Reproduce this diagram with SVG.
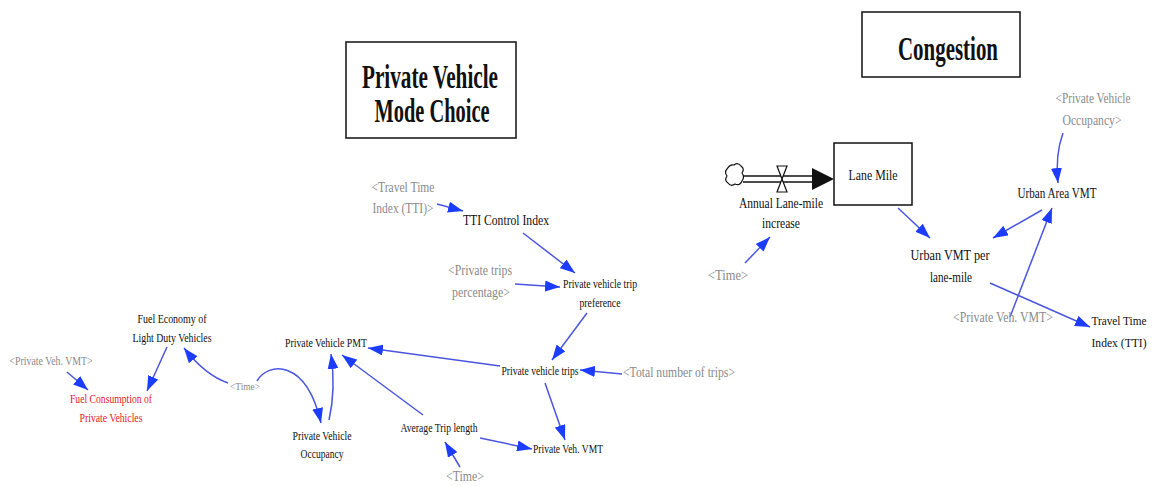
<svg xmlns="http://www.w3.org/2000/svg" width="1157" height="486" viewBox="0 0 1157 486">
<style>
text{font-family:"Liberation Serif","Times New Roman",serif;text-anchor:middle;fill:#111}
.g{fill:#8a8a8a}
.r{fill:#e8202a}
.s14{font-size:14px}
.s13{font-size:13.5px}
.s12{font-size:12.5px}
.s11{font-size:11px}
.s16{font-size:15.5px}
.title{font-size:33px;font-weight:bold}
.lnk{fill:none;stroke:#4a56e0;stroke-width:1.5;marker-end:url(#ah)}
.box{fill:#fff;stroke:#111;stroke-width:1.5}
</style>
<defs>
<marker id="ah" viewBox="0 0 15 11" refX="15" refY="5.5" markerWidth="15" markerHeight="11" markerUnits="userSpaceOnUse" orient="auto">
<path d="M0,0 L15,5.5 L0,11 z" fill="#1c3cff"/>
</marker>
</defs>
<rect width="1157" height="486" fill="#fff"/>

<g id="title-mode-choice">
<rect class="box" x="346" y="42" width="170" height="96"/>
<text class="title" x="430" y="88" textLength="136" lengthAdjust="spacingAndGlyphs">Private Vehicle</text>
<text class="title" x="432" y="122" textLength="115" lengthAdjust="spacingAndGlyphs">Mode Choice</text>
</g>
<g id="title-congestion">
<rect class="box" x="862" y="12" width="158" height="65"/>
<text class="title" x="948" y="60" textLength="100" lengthAdjust="spacingAndGlyphs">Congestion</text>
</g>

<g id="connectors">
<path class="lnk" d="M67,372 L88,390"/>
<path class="lnk" d="M167,347 L147,391"/>
<path class="lnk" d="M228,383 Q205,375 184,348"/>
<path class="lnk" d="M257,381 C268,362 306,358 321,423"/>
<path class="lnk" d="M329,420 Q336,390 331,354"/>
<path class="lnk" d="M423,415 L342,355"/>
<path class="lnk" d="M500,366 L368,348"/>
<path class="lnk" d="M437,204 L463,211"/>
<path class="lnk" d="M523,233 L575,273"/>
<path class="lnk" d="M515,284 L560,287"/>
<path class="lnk" d="M587,313 L552,360"/>
<path class="lnk" d="M622,374 L580,370"/>
<path class="lnk" d="M545,383 L565,440"/>
<path class="lnk" d="M480,438 L532,449"/>
<path class="lnk" d="M460,467 L445,442"/>
<path class="lnk" d="M745,263 L770,237"/>
<path class="lnk" d="M898,208 L930,238"/>
<path class="lnk" d="M1063,133 Q1055,155 1058,183"/>
<path class="lnk" d="M1042,210 L993,238"/>
<path class="lnk" d="M1010,317 L1052,208"/>
<path class="lnk" d="M990,283 L1090,327"/>
</g>

<g id="flow-annual-lane-mile-increase">
<path d="M734,165 q4,-3 7,1 q4,3 1,7 q3,4 0,8 q-2,5 -7,3 q-4,3 -7,-1 q-4,-3 -1,-7 q-3,-4 0,-7 q3,-5 7,-4 z" fill="#fff" stroke="#111" stroke-width="1.2"/>
<line x1="743" y1="176" x2="814" y2="176" stroke="#111" stroke-width="1.5"/>
<line x1="743" y1="182" x2="814" y2="182" stroke="#111" stroke-width="1.5"/>
<path d="M812,168 L834,179 L812,190 z" fill="#111"/>
<path d="M777,166 L787,166 L782,179 z M777,192 L787,192 L782,179 z" fill="#fff" stroke="#111" stroke-width="1.2"/>
<text class="s16" x="781" y="208" textLength="84" lengthAdjust="spacingAndGlyphs">Annual Lane-mile</text>
<text class="s16" x="781" y="228" textLength="38" lengthAdjust="spacingAndGlyphs">increase</text>
</g>
<g id="lane-mile">
<rect class="box" x="834" y="143" width="78" height="62"/>
<text class="s16" x="873" y="180" textLength="49" lengthAdjust="spacingAndGlyphs">Lane Mile</text>
</g>
<g id="time-congestion"><text class="s14 g" x="728" y="280" textLength="40" lengthAdjust="spacingAndGlyphs">&lt;Time&gt;</text></g>
<g id="urban-vmt-per-lane-mile">
<text class="s16" x="950" y="260" textLength="79" lengthAdjust="spacingAndGlyphs">Urban VMT per</text>
<text class="s16" x="951" y="282" textLength="42" lengthAdjust="spacingAndGlyphs">lane-mile</text>
</g>
<g id="private-vehicle-occupancy-shadow">
<text class="s16 g" x="1093" y="103" textLength="75" lengthAdjust="spacingAndGlyphs">&lt;Private Vehicle</text>
<text class="s16 g" x="1092" y="125" textLength="59" lengthAdjust="spacingAndGlyphs">Occupancy&gt;</text>
</g>
<g id="urban-area-vmt"><text class="s16" x="1057" y="198" textLength="79" lengthAdjust="spacingAndGlyphs">Urban Area VMT</text></g>
<g id="private-veh-vmt-shadow-right"><text class="s16 g" x="1003" y="322" textLength="100" lengthAdjust="spacingAndGlyphs">&lt;Private Veh. VMT&gt;</text></g>
<g id="travel-time-index">
<text class="s13" x="1119" y="325" textLength="55" lengthAdjust="spacingAndGlyphs">Travel Time</text>
<text class="s13" x="1119" y="347" textLength="55" lengthAdjust="spacingAndGlyphs">Index (TTI)</text>
</g>

<g id="tti-shadow">
<text class="s14 g" x="403" y="192" textLength="63" lengthAdjust="spacingAndGlyphs">&lt;Travel Time</text>
<text class="s14 g" x="403" y="213" textLength="61" lengthAdjust="spacingAndGlyphs">Index (TTI)&gt;</text>
</g>
<g id="tti-control-index"><text class="s14" x="506" y="225" textLength="86" lengthAdjust="spacingAndGlyphs">TTI Control Index</text></g>
<g id="private-trips-percentage">
<text class="s14 g" x="480" y="275" textLength="64" lengthAdjust="spacingAndGlyphs">&lt;Private trips</text>
<text class="s14 g" x="481" y="297" textLength="58" lengthAdjust="spacingAndGlyphs">percentage&gt;</text>
</g>
<g id="private-vehicle-trip-preference">
<text class="s12" x="600" y="288" textLength="74" lengthAdjust="spacingAndGlyphs">Private vehicle trip</text>
<text class="s12" x="600" y="307" textLength="41" lengthAdjust="spacingAndGlyphs">preference</text>
</g>
<g id="private-vehicle-trips"><text class="s13" x="540" y="375" textLength="77" lengthAdjust="spacingAndGlyphs">Private vehicle trips</text></g>
<g id="total-number-of-trips"><text class="s14 g" x="679" y="377" textLength="112" lengthAdjust="spacingAndGlyphs">&lt;Total number of trips&gt;</text></g>
<g id="private-vehicle-pmt"><text class="s13" x="326" y="347" textLength="82" lengthAdjust="spacingAndGlyphs">Private Vehicle PMT</text></g>
<g id="average-trip-length"><text class="s13" x="439" y="432" textLength="77" lengthAdjust="spacingAndGlyphs">Average Trip length</text></g>
<g id="private-veh-vmt"><text class="s13" x="568" y="453" textLength="70" lengthAdjust="spacingAndGlyphs">Private Veh. VMT</text></g>
<g id="time-bottom"><text class="s14 g" x="465" y="481" textLength="38" lengthAdjust="spacingAndGlyphs">&lt;Time&gt;</text></g>
<g id="private-vehicle-occupancy">
<text class="s13" x="322" y="440" textLength="59" lengthAdjust="spacingAndGlyphs">Private Vehicle</text>
<text class="s13" x="322" y="458" textLength="43" lengthAdjust="spacingAndGlyphs">Occupancy</text>
</g>
<g id="time-left"><text class="s11 g" x="245" y="390" textLength="30" lengthAdjust="spacingAndGlyphs">&lt;Time&gt;</text></g>
<g id="fuel-economy">
<text class="s13" x="172" y="323" textLength="69" lengthAdjust="spacingAndGlyphs">Fuel Economy of</text>
<text class="s13" x="172" y="342" textLength="79" lengthAdjust="spacingAndGlyphs">Light Duty Vehicles</text>
</g>
<g id="private-veh-vmt-shadow-left"><text class="s13 g" x="51" y="365" textLength="83" lengthAdjust="spacingAndGlyphs">&lt;Private Veh. VMT&gt;</text></g>
<g id="fuel-consumption">
<text class="s13 r" x="111" y="403" textLength="82" lengthAdjust="spacingAndGlyphs">Fuel Consumption of</text>
<text class="s13 r" x="111" y="422" textLength="63" lengthAdjust="spacingAndGlyphs">Private Vehicles</text>
</g>
</svg>
